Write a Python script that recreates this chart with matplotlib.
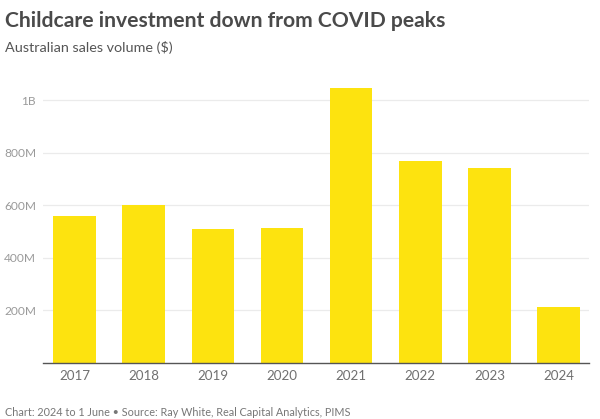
import numpy as np
import matplotlib
matplotlib.use("Agg")
import matplotlib.pyplot as plt

plt.rcParams['font.family'] = ['Lato', 'DejaVu Sans']

years = ["2017", "2018", "2019", "2020", "2021", "2022", "2023", "2024"]
sales = [560e6, 600e6, 511e6, 515e6, 1046e6, 770e6, 743e6, 212e6]
yticks = [200e6, 400e6, 600e6, 800e6, 1000e6]
ylabels = ["200M", "400M", "600M", "800M", "1B"]

fig = plt.figure(figsize=(6, 4.19), dpi=100)
ax = fig.add_axes([0.0717, 0.1337, 0.91, 0.6891])

x = np.arange(len(years))
ax.bar(x, sales, width=0.615, color="#fde30f", zorder=2)

ax.set_xlim(-0.455, 7.44)
ax.set_ylim(0, 1.1e9)
ax.set_yticks(yticks)
ax.set_yticklabels(ylabels)
ax.set_xticks(x)
ax.set_xticklabels(years)
ax.tick_params(axis="y", length=0, pad=5, labelsize=8.6, labelcolor="#9a9a9a")
ax.tick_params(axis="x", length=0, pad=5, labelsize=9.6, labelcolor="#707070")
ax.grid(axis="y", color="#ebebeb", linewidth=0.9, zorder=0)
for s in ["top", "right", "left"]:
    ax.spines[s].set_visible(False)
ax.spines["bottom"].set_color("#555555")
ax.spines["bottom"].set_linewidth(1.0)
ax.spines["bottom"].set_zorder(3)

fig.text(5/600, 1 - 27/419, "Childcare investment down from COVID peaks",
         fontsize=15.25, fontweight="bold", color="#4a4a4a", va="baseline")
fig.text(5/600, 1 - 52/419, "Australian sales volume ($)",
         fontsize=10.35, color="#555555", va="baseline")
fig.text(5/600, 1 - 412/419,
         "Chart: 2024 to 1 June \u2022 Source: Ray White, Real Capital Analytics, PIMS",
         fontsize=7.85, color="#777777", va="center")

fig.savefig("out.png", dpi=100)
